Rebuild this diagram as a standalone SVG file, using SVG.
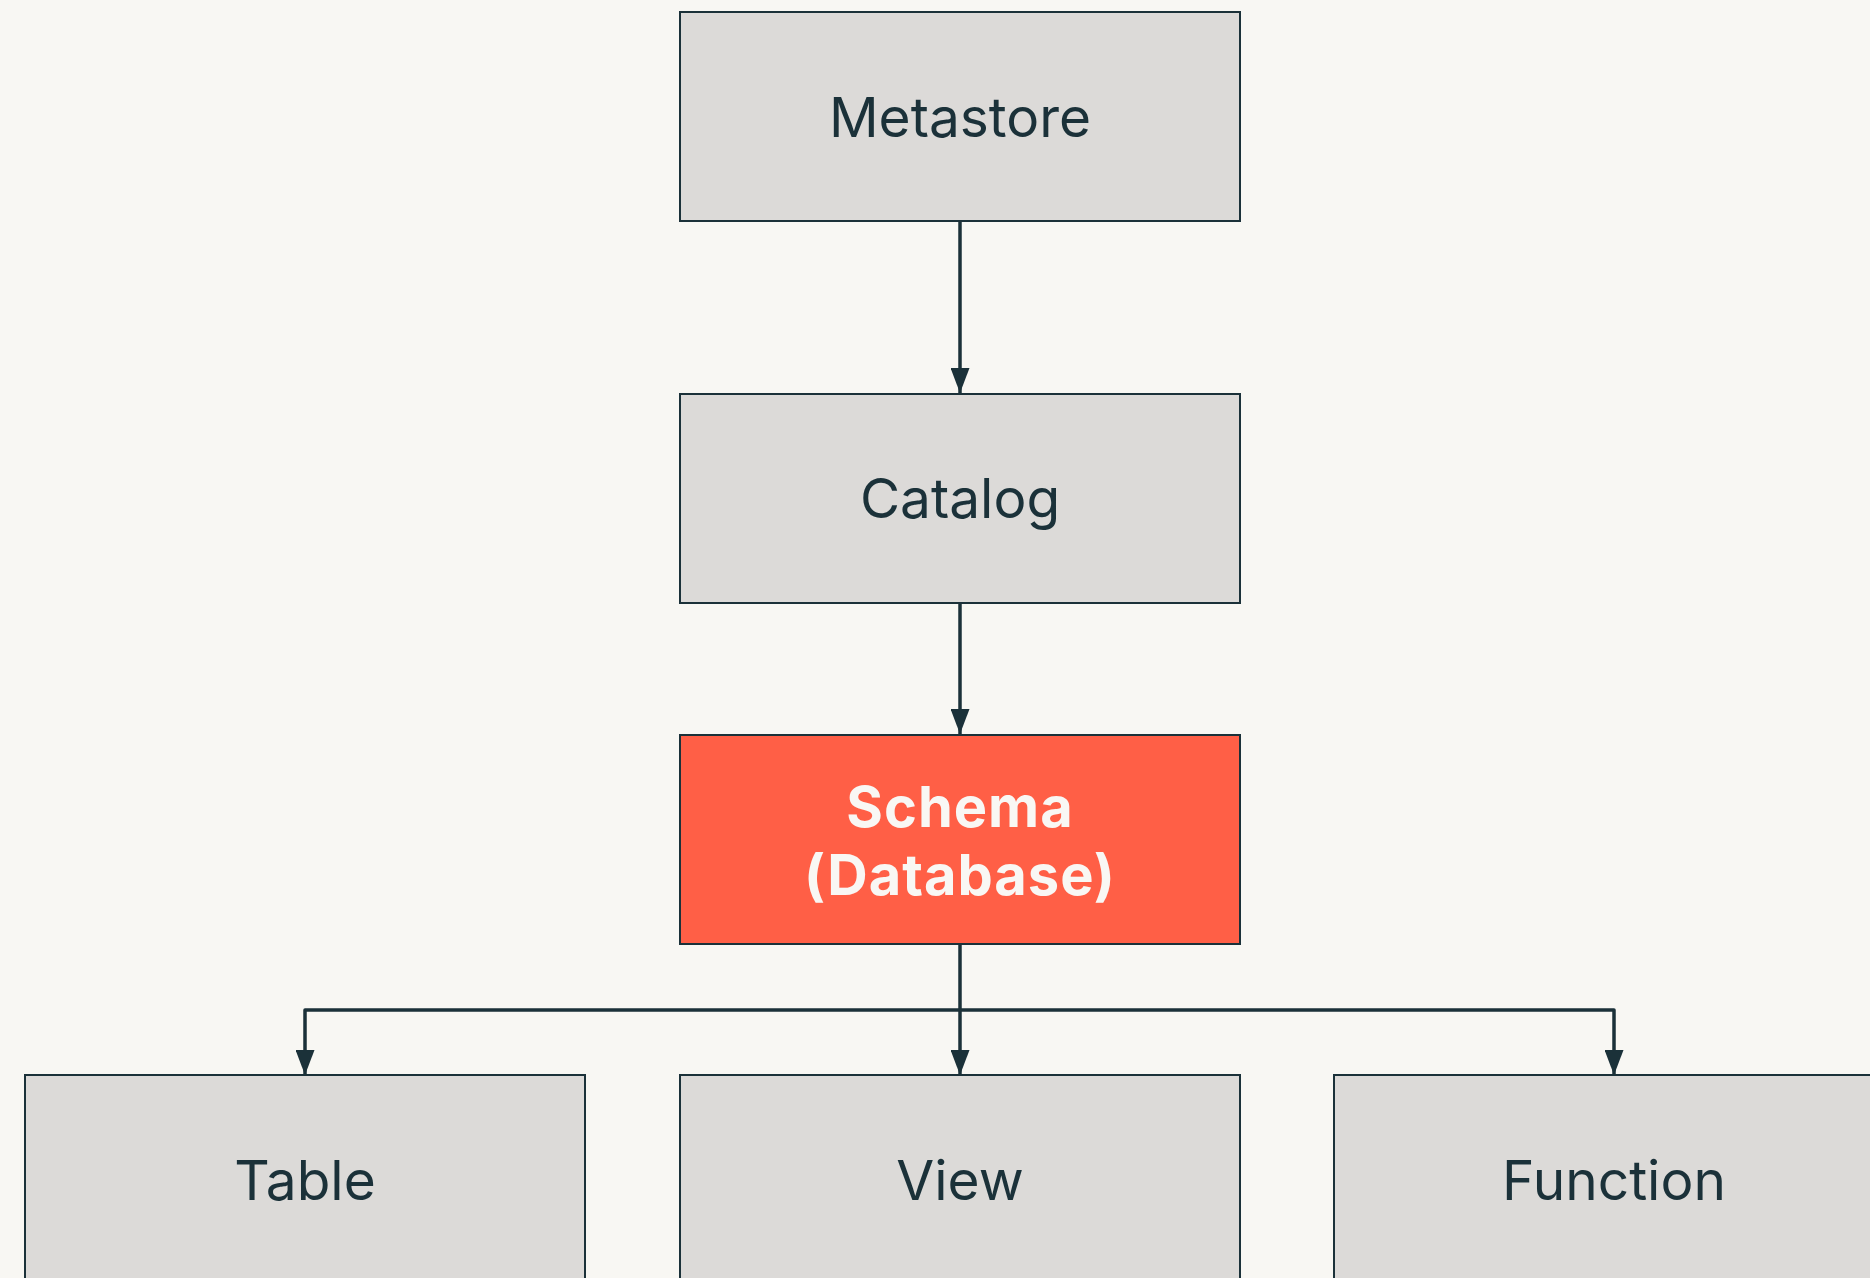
<svg xmlns="http://www.w3.org/2000/svg" width="1870" height="1278" viewBox="0 0 1870 1278">
<style>
.box{fill:#DCDAD8;stroke:#1B3139;stroke-width:2}
.hl{fill:#FF5F46;stroke:#1B3139;stroke-width:2}
.lbl{font-family:Inter,"Liberation Sans",sans-serif;font-size:55px;fill:#1B3139;text-anchor:middle}
.lblw{font-family:Inter,"Liberation Sans",sans-serif;font-size:56px;font-weight:bold;letter-spacing:1px;fill:#F9F7F4;text-anchor:middle}
.edge{fill:none;stroke:#1B3139;stroke-width:3.5;stroke-linejoin:round}
</style>
<defs>
<marker id="arr" markerWidth="25" markerHeight="19" refX="25" refY="9.5" orient="auto" markerUnits="userSpaceOnUse" viewBox="0 0 25 19">
<path d="M0,0 L25,9.5 L0,19 Z" fill="#1B3139"/>
</marker>
</defs>
<rect width="1870" height="1278" fill="#F8F7F3"/>
<g id="connectors">
<path class="edge" d="M960,221 V393" marker-end="url(#arr)"/>
<path class="edge" d="M960,603 V734" marker-end="url(#arr)"/>
<path class="edge" d="M960,944 V1075" marker-end="url(#arr)"/>
<path class="edge" d="M960,1010 H305 V1075" marker-end="url(#arr)"/>
<path class="edge" d="M960,1010 H1614 V1075" marker-end="url(#arr)"/>
</g>
<g id="metastore">
<rect class="box" x="680" y="12" width="560" height="209"/>
<text class="lbl" x="960" y="137">Metastore</text>
</g>
<g id="catalog">
<rect class="box" x="680" y="394" width="560" height="209"/>
<text class="lbl" x="960" y="518">Catalog</text>
</g>
<g id="schema">
<rect class="hl" x="680" y="735" width="560" height="209"/>
<text class="lblw" x="960" y="827">Schema</text>
<text class="lblw" x="960" y="895">(Database)</text>
</g>
<g id="table">
<rect class="box" x="25" y="1075" width="560" height="220"/>
<text class="lbl" x="305" y="1200">Table</text>
</g>
<g id="view">
<rect class="box" x="680" y="1075" width="560" height="220"/>
<text class="lbl" x="960" y="1200">View</text>
</g>
<g id="function">
<rect class="box" x="1334" y="1075" width="560" height="220"/>
<text class="lbl" x="1614" y="1200">Function</text>
</g>
</svg>
